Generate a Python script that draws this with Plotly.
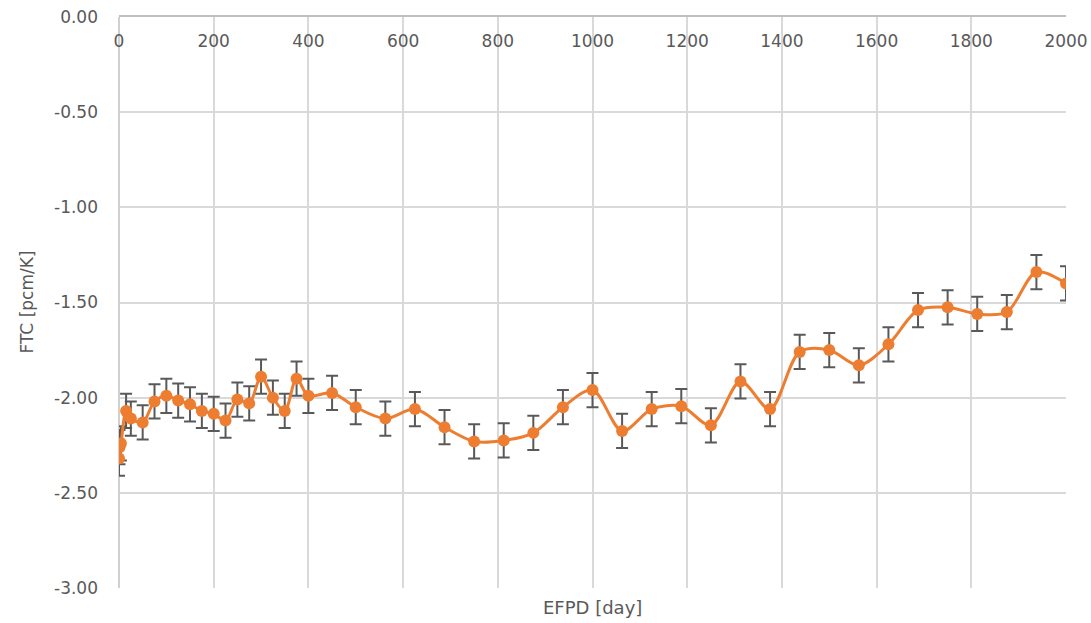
import plotly.graph_objects as go

efpd = [0, 1, 4, 15, 25, 50, 75, 100, 125, 150, 175, 200, 225, 250, 275, 300,
        325, 350, 375, 400, 450, 500, 562.5, 625, 687.5, 750, 812.5, 875, 937.5,
        1000, 1062.5, 1125, 1187.5, 1250, 1312.5, 1375, 1437.5, 1500, 1562.5,
        1625, 1687.5, 1750, 1812.5, 1875, 1937.5, 2000]
ftc = [-2.32, -2.26, -2.24, -2.07, -2.11, -2.13, -2.02, -1.99, -2.015, -2.035,
       -2.07, -2.085, -2.12, -2.01, -2.03, -1.89, -2.00, -2.07, -1.90, -1.99,
       -1.975, -2.05, -2.11, -2.06, -2.155, -2.23, -2.225, -2.185, -2.05,
       -1.96, -2.175, -2.06, -2.045, -2.145, -1.915, -2.06, -1.76, -1.75,
       -1.83, -1.72, -1.54, -1.525, -1.56, -1.55, -1.34, -1.40]
err = [0.09] * len(efpd)

x_ticks = list(range(0, 2001, 200))
y_ticks = [0, -0.5, -1.0, -1.5, -2.0, -2.5, -3.0]
y_tick_text = ["0.00", "-0.50", "-1.00", "-1.50", "-2.00", "-2.50", "-3.00"]

font_family = "DejaVu Sans"
txt_color = "#595959"
grid_color = "#d9d9d9"

fig = go.Figure()
fig.add_trace(go.Scatter(
    x=efpd, y=ftc, mode="lines+markers",
    line=dict(color="#ED7D31", width=3, shape="spline", smoothing=0.9),
    marker=dict(color="#ED7D31", size=12),
    error_y=dict(type="data", array=err, visible=True, color="#595959",
                 thickness=2, width=6),
    showlegend=False,
))

fig.update_layout(
    width=1091, height=623,
    margin=dict(l=119, r=25, t=17, b=35),
    plot_bgcolor="white", paper_bgcolor="white",
    font=dict(family=font_family, size=17, color=txt_color),
    xaxis=dict(
        range=[0, 2000], side="top", tickvals=x_ticks,
        ticklabelposition="inside", ticklabeloverflow="allow",
        ticklabelstandoff=19, automargin=False,
        showgrid=True, gridcolor=grid_color, gridwidth=2,
        showline=True, linecolor="#bfbfbf", linewidth=2,
        zeroline=True, zerolinecolor="#d0d0d0", zerolinewidth=2,
        ticks="", tickfont=dict(size=17, color=txt_color),
    ),
    yaxis=dict(
        range=[-3.0, 0.0], tickvals=y_ticks, ticktext=y_tick_text,
        showgrid=True, gridcolor=grid_color, gridwidth=2,
        zeroline=False, showline=False, ticks="",
        ticklabelstandoff=20, automargin=False,
        tickfont=dict(size=17, color=txt_color),
    ),
    annotations=[
        dict(text="EFPD [day]", xref="paper", yref="paper", x=0.5, y=0,
             yshift=-19, yanchor="middle", showarrow=False,
             font=dict(size=18, color=txt_color)),
        dict(text="FTC [pcm/K]", xref="paper", yref="paper",
             x=-0.0982, y=0.5, xanchor="center", yanchor="middle",
             textangle=-90, showarrow=False,
             font=dict(size=17, color=txt_color)),
    ],
)

fig.write_html("out.html",
               config={"displayModeBar": False},
               post_script="document.body.style.margin='0';"
                           "document.body.style.overflow='hidden';")
